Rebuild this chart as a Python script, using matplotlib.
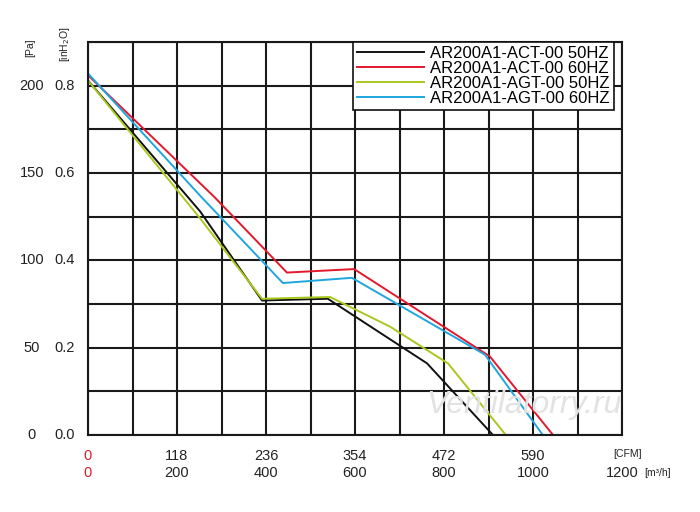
import matplotlib.pyplot as plt

plt.rcParams['font.family'] = ['Liberation Sans', 'DejaVu Sans']

# flow in m3/h, pressure in Pa
act50_q = [0, 252, 391, 539, 762, 910]
act50_p = [203, 128, 77, 78, 41, 0]
act60_q = [0, 285, 447, 598, 903, 1045]
act60_p = [206, 136, 93, 95, 45, 0]
agt50_q = [0, 252, 391, 544, 679, 809, 939]
agt50_p = [203, 124, 78, 79, 62, 41, 0]
agt60_q = [0, 252, 438, 593, 892, 1022]
agt60_p = [207, 137, 87, 90, 46, 0]

labels = ['AR200A1-ACT-00 50HZ', 'AR200A1-ACT-00 60HZ',
          'AR200A1-AGT-00 50HZ', 'AR200A1-AGT-00 60HZ']
colors = ['#111111', '#e3182d', '#a8c81e', '#1fa6de']

cfm_labels = ['118', '236', '354', '472', '590']
m3h_labels = ['200', '400', '600', '800', '1000']
pa_labels = ['0', '50', '100', '150', '200']
inh2o_labels = ['0.0', '0.2', '0.4', '0.6', '0.8']

fig = plt.figure(figsize=(7, 5.12), dpi=100)
ax = fig.add_axes([88/700, 77/512, 534/700, 393/512])

for q, p, lab, c in zip([act50_q, act60_q, agt50_q, agt60_q],
                        [act50_p, act60_p, agt50_p, agt60_p], labels, colors):
    ax.plot(q, p, color=c, lw=1.4, label=lab)

ax.set_xlim(0, 1200)
ax.set_ylim(0, 225)
ax.set_xticks(range(0, 1201, 100))
ax.set_yticks([i * 25 for i in range(10)])
ax.grid(True, color='#1a1a1a', lw=1.5)
ax.tick_params(length=0, labelbottom=False, labelleft=False)
for s in ax.spines.values():
    s.set_color('#1a1a1a')
    s.set_linewidth(1.5)

fs = 10.5
# x labels
ax.text(0, -12, '0', color='#e3182d', ha='center', va='center', fontsize=fs)
ax.text(0, -22, '0', color='#e3182d', ha='center', va='center', fontsize=fs)
for i, (c, m) in enumerate(zip(cfm_labels, m3h_labels)):
    x = (i + 1) * 200
    ax.text(x, -12, c, ha='center', va='center', fontsize=fs, color='#222')
    ax.text(x, -22, m, ha='center', va='center', fontsize=fs, color='#222')
ax.text(1180, -11, '[CFM]', ha='left', va='center', fontsize=7.5, color='#222')
ax.text(1200, -22, '1200', ha='center', va='center', fontsize=fs, color='#222')
ax.text(1250, -22, '[m³/h]', ha='left', va='center', fontsize=7.5, color='#222')

# y labels
for i, (pa, ih) in enumerate(zip(pa_labels, inh2o_labels)):
    y = i * 50
    ax.text(-126, y, pa, ha='center', va='center', fontsize=fs, color='#222')
    ax.text(-52, y, ih, ha='center', va='center', fontsize=fs, color='#222')
ax.text(-130, 222, '[Pa]', rotation=90, ha='center', va='center', fontsize=7.5, color='#222')
ax.text(-52, 224, '[inH$_2$O]', rotation=90, ha='center', va='center', fontsize=7.5, color='#222')

ax.text(980, 17, 'Ventilatorry.ru', ha='center', va='center', fontsize=23,
        style='italic', color='#e2e2e2', zorder=3)

leg = ax.legend(loc='upper right', bbox_to_anchor=(0.985, 1.0), fontsize=12,
                frameon=True, fancybox=False, borderpad=0.25, labelspacing=0.0,
                handlelength=4.0, handletextpad=0.4, borderaxespad=0)
leg.get_frame().set_edgecolor('#111111')
leg.get_frame().set_linewidth(1.2)
leg.get_frame().set_alpha(1)

fig.savefig('out.png', dpi=100)
